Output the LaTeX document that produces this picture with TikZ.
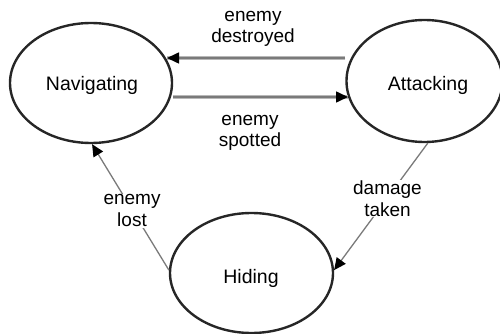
\documentclass[tikz,border=0pt]{standalone}
\usepackage{fontspec}
\setmainfont{Liberation Sans}
\usetikzlibrary{shapes.geometric,arrows.meta}
\definecolor{rim}{HTML}{262626}
\definecolor{wire}{HTML}{7A7A7A}
\definecolor{halo}{HTML}{B8B8B8}
\begin{document}
\begin{tikzpicture}[x=1pt,y=-1pt,
  state/.style={ellipse,draw=rim,line width=2.4pt,inner sep=0pt},
  statename/.style={anchor=base,inner sep=0pt,font=\fontsize{19.5}{22}\selectfont},
  tip/.style={-{Triangle[length=12pt,width=11pt,black]}},
  mainwire/.style={tip,draw=wire,line width=1.6pt,
    preaction={draw=halo,line width=3.6pt,-}},
  sidewire/.style={tip,draw=wire,line width=1.3pt},
  lbl/.style={font=\fontsize{19}{21.5}\selectfont,align=center,
    fill=white,inner sep=1pt}]
\useasboundingbox (0,0) rectangle (500,334);

% the three states
\node[state,minimum width=162pt,minimum height=120pt] (nav) at (91,83) {};
\node[state,minimum width=156pt,minimum height=122pt] (att) at (424.5,81) {};
\node[state,minimum width=163pt,minimum height=120pt] (hid) at (251.5,273) {};
\node[statename] (navtxt) at (92,90.5) {Navigating};
\node[statename] (atttxt) at (428,90.5) {Attacking};
\node[statename] (hidtxt) at (251,283.5) {Hiding};

% horizontal transitions
\coordinate (navtop) at (167,58);
\coordinate (attbot) at (348,97);
\draw[mainwire] (att.west |- navtop) -- (navtop);
\draw[mainwire] (nav.east |- attbot) -- (attbot);
\node[lbl] (ldes) at (253,29) {enemy\\destroyed};
\node[lbl] (lspot) at (250,133) {enemy\\spotted};

% diagonal transitions
\draw[sidewire] (hid.178) -- node[lbl,pos=0.48,yshift=-1pt] (llost) {enemy\\lost} (nav.-89);
\draw[sidewire] (att.-87) -- node[lbl,pos=0.43,yshift=-1pt] (ldmg) {damage\\taken} (hid.2);
\end{tikzpicture}
\end{document}
